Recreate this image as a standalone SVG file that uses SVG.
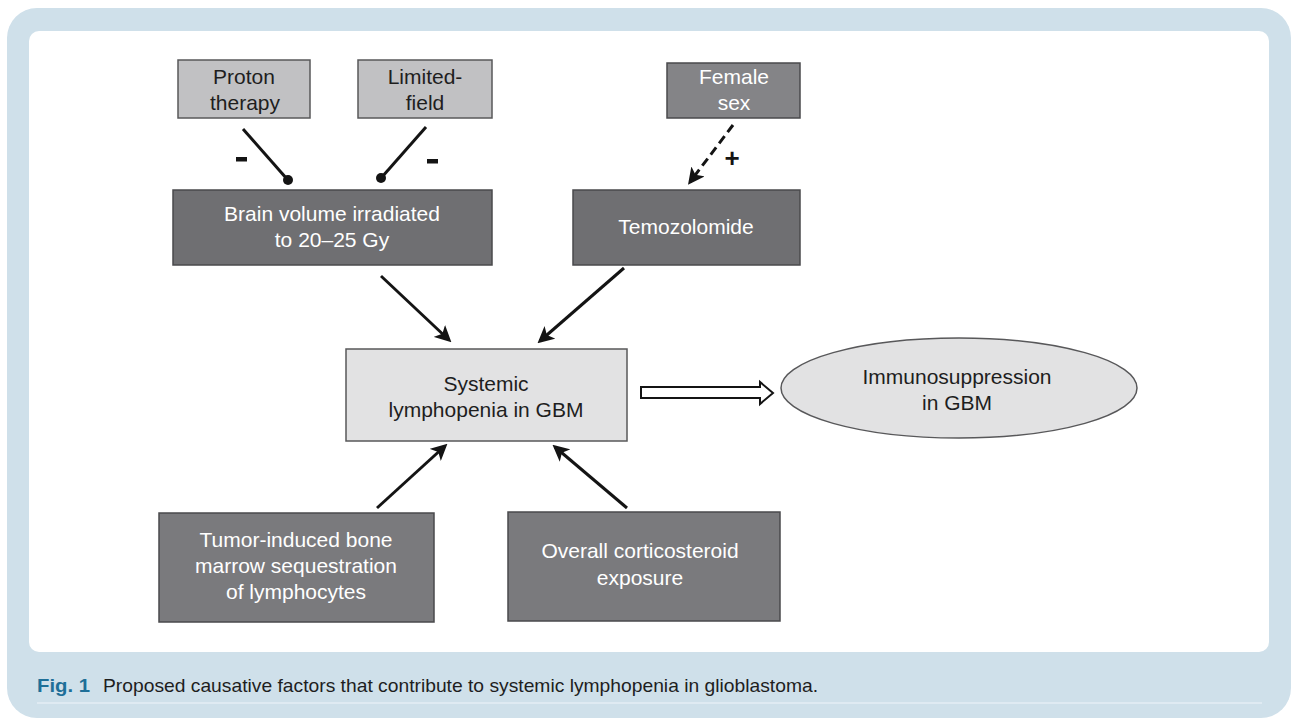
<svg xmlns="http://www.w3.org/2000/svg" width="1293" height="720" viewBox="0 0 1293 720">
<defs>
<style>
.lt{fill:#c1c1c3;stroke:#58585a;stroke-width:1.5}
.dk{fill:#747477;stroke:#4a4a4c;stroke-width:1.5}
.md{fill:#e2e2e3;stroke:#58585a;stroke-width:1.5}
.tb{font-family:"Liberation Sans",Arial,sans-serif;font-size:21px;text-anchor:middle;fill:#1e1e1e}
.tw{font-family:"Liberation Sans",Arial,sans-serif;font-size:21px;text-anchor:middle;fill:#ffffff}
.ln{stroke:#141414;stroke-width:3;fill:none}
.sg{font-family:"Liberation Sans",Arial,sans-serif;font-size:26px;font-weight:bold;text-anchor:middle;fill:#141414}
.cap{font-family:"Liberation Sans Narrow","Liberation Sans",Arial,sans-serif;font-size:19px;fill:#1e1e1e}
.fig{font-weight:bold;fill:#1e6f98}
</style>
<marker id="ah" viewBox="0 0 10 10" refX="8" refY="5" markerWidth="5.5" markerHeight="5.5" markerUnits="strokeWidth" orient="auto">
<path d="M0,0 L10,5 L0,10 L2.5,5 z" fill="#141414"/>
</marker>
</defs>
<rect x="7" y="8" width="1284" height="710" rx="30" fill="#cfe0ea"/>
<rect x="29" y="31" width="1240" height="621" rx="10" fill="#ffffff"/>
<line x1="37" y1="703" x2="1262" y2="703" stroke="#e4eef4" stroke-width="1.5"/>
<text class="cap fig" x="37" y="692" textLength="53" lengthAdjust="spacingAndGlyphs">Fig. 1</text>
<text class="cap" x="103" y="692" textLength="715" lengthAdjust="spacingAndGlyphs">Proposed causative factors that contribute to systemic lymphopenia in glioblastoma.</text>

<g id="connectors">
<line class="ln" x1="243" y1="129" x2="287" y2="179"/>
<circle cx="288" cy="180" r="5" fill="#141414"/>
<line class="ln" x1="426" y1="127" x2="382" y2="177"/>
<circle cx="381" cy="178" r="5" fill="#141414"/>
<line class="ln" x1="733" y1="125" x2="690" y2="182" stroke-dasharray="9,5" marker-end="url(#ah)"/>
<line class="ln" x1="381" y1="276" x2="449" y2="340" marker-end="url(#ah)"/>
<line class="ln" x1="624" y1="268" x2="540" y2="341" marker-end="url(#ah)"/>
<line class="ln" x1="377" y1="508" x2="445" y2="446" marker-end="url(#ah)"/>
<line class="ln" x1="627" y1="508" x2="555" y2="447" marker-end="url(#ah)"/>
<path d="M641,387 L760,387 L760,382 L773,393 L760,404 L760,398 L641,398 Z" fill="#ffffff" stroke="#141414" stroke-width="2"/>
<rect x="236" y="157" width="11" height="4.5" fill="#141414"/>
<rect x="427" y="159" width="11" height="4.5" fill="#141414"/>
<text class="sg" x="732" y="167">+</text>
</g>

<g id="proton"><rect class="lt" x="178" y="60" width="132" height="58"/>
<text class="tb" x="244" y="84">Proton</text><text class="tb" x="245" y="110">therapy</text></g>
<g id="limited"><rect class="lt" x="358" y="60" width="134" height="58"/>
<text class="tb" x="425" y="84">Limited-</text><text class="tb" x="425" y="110">field</text></g>
<g id="female"><rect class="dk" x="667" y="63" width="133" height="55" style="fill:#848487"/>
<text class="tw" x="734" y="84">Female</text><text class="tw" x="734" y="110">sex</text></g>
<g id="brain"><rect class="dk" x="173" y="190" width="319" height="75" style="fill:#6f6f72"/>
<text class="tw" x="332" y="221">Brain volume irradiated</text><text class="tw" x="332" y="247">to 20–25 Gy</text></g>
<g id="temozolomide"><rect class="dk" x="573" y="190" width="227" height="75" style="fill:#6f6f72"/>
<text class="tw" x="686" y="234">Temozolomide</text></g>
<g id="systemic"><rect class="md" x="346" y="349" width="281" height="92"/>
<text class="tb" x="486" y="391">Systemic</text><text class="tb" x="486" y="417">lymphopenia in GBM</text></g>
<g id="immuno"><ellipse cx="959" cy="388" rx="178" ry="50" fill="#e2e2e3" stroke="#58585a" stroke-width="1.5"/>
<text class="tb" x="957" y="384">Immunosuppression</text><text class="tb" x="957" y="410">in GBM</text></g>
<g id="tumor"><rect class="dk" x="159" y="513" width="275" height="109" style="fill:#7a7a7d"/>
<text class="tw" x="296" y="547">Tumor-induced bone</text><text class="tw" x="296" y="573">marrow sequestration</text><text class="tw" x="296" y="599">of lymphocytes</text></g>
<g id="corticosteroid"><rect class="dk" x="508" y="512" width="272" height="109" style="fill:#7a7a7d"/>
<text class="tw" x="640" y="558">Overall corticosteroid</text><text class="tw" x="640" y="585">exposure</text></g>
</svg>
